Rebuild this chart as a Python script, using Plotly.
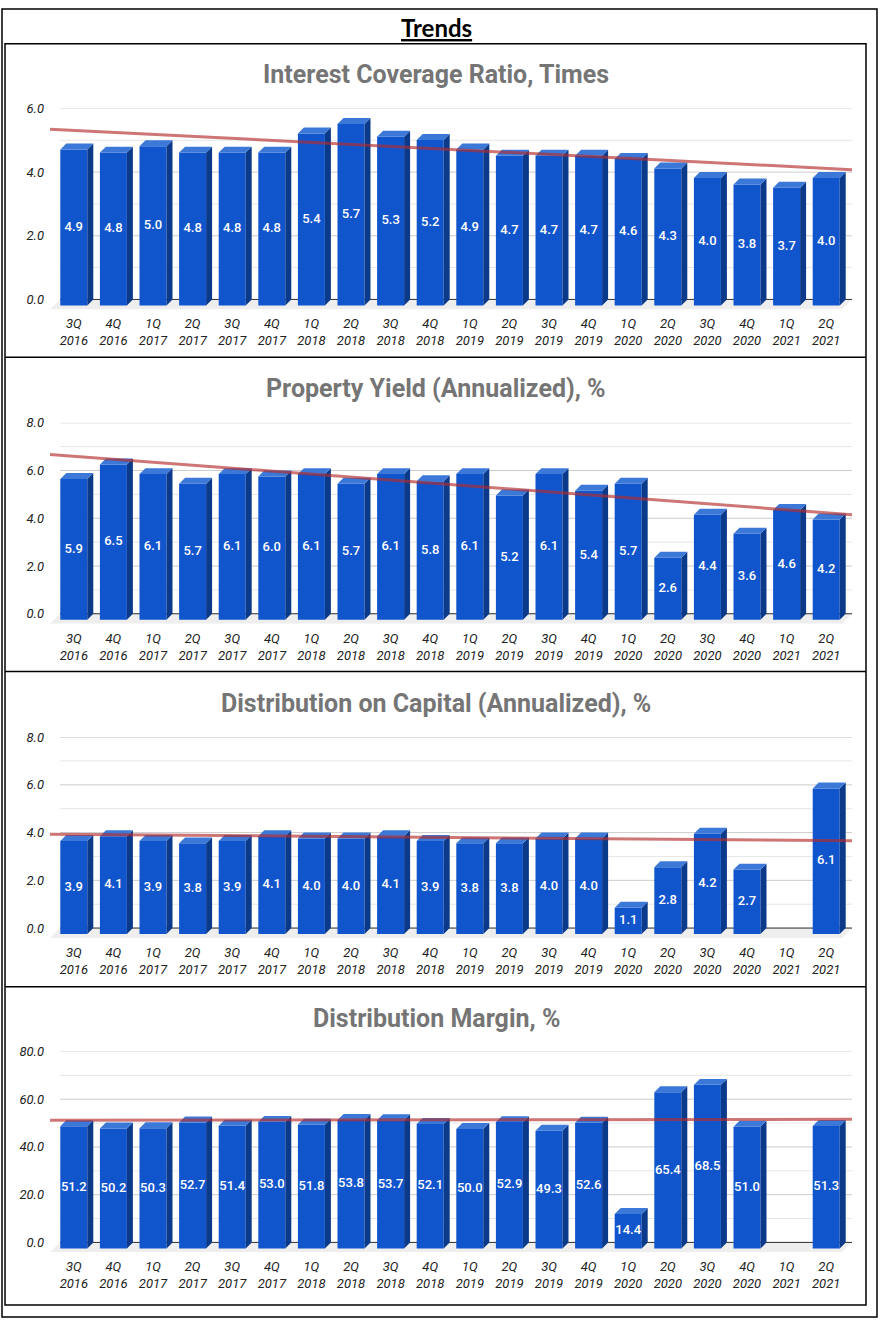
import numpy as np
import plotly.graph_objects as go

# quarters shown on every panel
quarters = ["3Q 2016", "4Q 2016", "1Q 2017", "2Q 2017", "3Q 2017", "4Q 2017",
            "1Q 2018", "2Q 2018", "3Q 2018", "4Q 2018", "1Q 2019", "2Q 2019",
            "3Q 2019", "4Q 2019", "1Q 2020", "2Q 2020", "3Q 2020", "4Q 2020",
            "1Q 2021", "2Q 2021"]

interest_cover = [4.9, 4.8, 5.0, 4.8, 4.8, 4.8, 5.4, 5.7, 5.3, 5.2,
                  4.9, 4.7, 4.7, 4.7, 4.6, 4.3, 4.0, 3.8, 3.7, 4.0]
property_yield = [5.9, 6.5, 6.1, 5.7, 6.1, 6.0, 6.1, 5.7, 6.1, 5.8,
                  6.1, 5.2, 6.1, 5.4, 5.7, 2.6, 4.4, 3.6, 4.6, 4.2]
dist_on_capital = [3.9, 4.1, 3.9, 3.8, 3.9, 4.1, 4.0, 4.0, 4.1, 3.9,
                   3.8, 3.8, 4.0, 4.0, 1.1, 2.8, 4.2, 2.7, None, 6.1]
dist_margin = [51.2, 50.2, 50.3, 52.7, 51.4, 53.0, 51.8, 53.8, 53.7, 52.1,
               50.0, 52.9, 49.3, 52.6, 14.4, 65.4, 68.5, 51.0, None, 51.3]

titles = ["Interest Coverage Ratio, Times", "Property Yield (Annualized), %",
          "Distribution on Capital (Annualized), %", "Distribution Margin, %"]
series = [interest_cover, property_yield, dist_on_capital, dist_margin]
y_max = [6, 8, 8, 80]
y_minor = [1, 1, 1, 10]

W, H = 880, 1320
CAT = 39.6          # px per category
DEPTH = 6           # px of 3d offset on the bars
FLOOR = 10          # px depth of the floor
BAR_W = 27 / CAT
SX = DEPTH / CAT

FRONT = "#1155cc"
SIDE = "#0c3a8a"
TOP = "#3c78d8"
TREND = "rgba(180,45,45,0.65)"


def fx(p):
    return p / W


def fy(p):
    return 1 - p / H


fig = go.Figure()
shapes = []
annotations = []
plot_tops = [102, 418, 734, 1050]
title_ys = [68, 384, 700, 1017]

for k in range(4):
    n = "" if k == 0 else str(k + 1)
    xa, ya = "x" + n, "y" + n
    vals = series[k]
    top, zero = plot_tops[k], plot_tops[k] + 192
    ppu = 192 / y_max[k]
    dy = DEPTH / ppu
    floor = FLOOR / ppu
    x_lo = -0.5 - FLOOR / CAT

    idx = [i for i, v in enumerate(vals) if v is not None]
    vv = [vals[i] for i in idx]

    # grid
    step = y_minor[k]
    n_lines = int(round(y_max[k] / step))
    for j in range(n_lines + 1):
        g = j * step
        major = j % 2 == 0
        shapes.append(dict(type="line", xref=xa, yref=ya, x0=-0.5, x1=19.5, y0=g, y1=g,
                           layer="below",
                           line=dict(color="#cccccc" if major else "#e6e6e6", width=1)))
    # floor + base line
    shapes.append(dict(type="path", xref=xa, yref=ya, layer="below",
                       path=f"M -0.5,0 L 19.5,0 L {19.5 - FLOOR / CAT},{-floor} L {x_lo},{-floor} Z",
                       fillcolor="#eeeeee", line=dict(width=0)))
    shapes.append(dict(type="line", xref=xa, yref=ya, x0=-0.5, x1=19.5, y0=0, y1=0,
                       layer="below", line=dict(color="#333333", width=1)))

    # front faces
    fig.add_trace(go.Bar(x=[i - SX for i in idx], y=vv, base=-dy, width=BAR_W,
                         marker=dict(color=FRONT, line=dict(width=0)),
                         xaxis=xa, yaxis=ya, hoverinfo="skip"))

    # side and top faces
    sx_, sy_, tx_, ty_ = [], [], [], []
    for i, v in zip(idx, vv):
        fl = i - SX - BAR_W / 2
        fr = i - SX + BAR_W / 2
        sx_ += [fr, fr, fr + SX, fr + SX, fr, None]
        sy_ += [-dy, v - dy, v, 0, -dy, None]
        tx_ += [fl, fr, fr + SX, fl + SX, fl, None]
        ty_ += [v - dy, v - dy, v, v, v - dy, None]
    fig.add_trace(go.Scatter(x=sx_, y=sy_, fill="toself", fillcolor=SIDE, mode="lines",
                             line=dict(width=0, color=SIDE), xaxis=xa, yaxis=ya, hoverinfo="skip"))
    fig.add_trace(go.Scatter(x=tx_, y=ty_, fill="toself", fillcolor=TOP, mode="lines",
                             line=dict(width=0, color=TOP), xaxis=xa, yaxis=ya, hoverinfo="skip"))

    # value labels
    fig.add_trace(go.Scatter(x=[i - SX for i in idx], y=[v / 2 - dy for v in vv],
                             mode="text", text=[f"{v:.1f}" for v in vv],
                             textfont=dict(family="Roboto", size=13, color="white", weight=500),
                             xaxis=xa, yaxis=ya, hoverinfo="skip"))

    # linear trend
    a, b = np.polyfit(idx, vv, 1)
    tx = [x_lo, 19.5]
    fig.add_trace(go.Scatter(x=tx, y=[a * t + b for t in tx], mode="lines",
                             line=dict(color=TREND, width=3),
                             xaxis=xa, yaxis=ya, hoverinfo="skip"))

    major_vals = [j * step for j in range(0, n_lines + 1, 2)]
    fig.update_layout(**{
        "xaxis" + n: dict(domain=[fx(50), fx(852)], range=[x_lo, 19.5],
                          anchor=ya, tickmode="array",
                          tickvals=[i - SX for i in range(20)],
                          ticktext=[q.replace(" ", "<br>") for q in quarters],
                          tickfont=dict(family="Roboto", size=13, color="#222222", style="italic"),
                          showgrid=False, zeroline=False, showline=False, ticks="",
                          ticklabelstandoff=5, fixedrange=True),
        "yaxis" + n: dict(domain=[fy(zero + FLOOR), fy(top)], range=[-floor, y_max[k]],
                          anchor=xa, tickmode="array",
                          tickvals=major_vals,
                          ticktext=[f"{g:.1f}" for g in major_vals],
                          tickfont=dict(family="Roboto", size=13, color="#222222", style="italic"),
                          showgrid=False, zeroline=False, showline=False, ticks="",
                          ticklabelstandoff=5, fixedrange=True),
    })

    annotations.append(dict(text=f"<b>{titles[k]}</b>", xref="paper", yref="paper",
                            x=fx(436), y=fy(title_ys[k]), xanchor="center", yanchor="middle",
                            showarrow=False,
                            font=dict(family="Roboto", size=25, color="#757575")))

annotations.append(dict(text="<b><u>Trends</u></b>", xref="paper", yref="paper",
                        x=fx(436), y=fy(21), xanchor="center", yanchor="middle",
                        showarrow=False, font=dict(family="Lato", size=24, color="black")))

# frames
shapes.append(dict(type="rect", xref="paper", yref="paper", x0=fx(2), x1=fx(877),
                   y0=fy(1317), y1=fy(2), line=dict(color="black", width=1.5)))
shapes.append(dict(type="rect", xref="paper", yref="paper", x0=fx(5), x1=fx(866),
                   y0=fy(1305), y1=fy(37), line=dict(color="black", width=1.5)))
for sep in [352, 668, 985]:
    shapes.append(dict(type="line", xref="paper", yref="paper", x0=fx(5), x1=fx(866),
                       y0=fy(sep), y1=fy(sep), line=dict(color="black", width=1.5)))

fig.update_layout(width=W, height=H, margin=dict(l=0, r=0, t=0, b=0),
                  paper_bgcolor="white", plot_bgcolor="white", showlegend=False,
                  shapes=shapes, annotations=annotations)

fig.write_html("out.html", config={"displayModeBar": False},
               post_script="document.body.style.margin = '0';")
